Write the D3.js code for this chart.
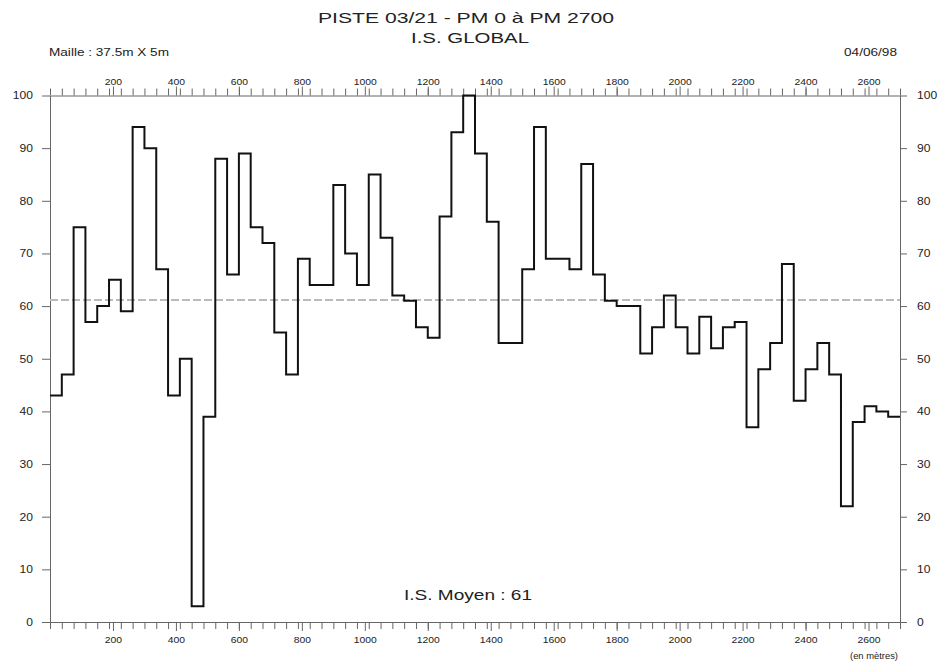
<!DOCTYPE html>
<html>
<head>
<meta charset="utf-8">
<script src="https://cdn.jsdelivr.net/npm/d3@7"></script>
<style>
  body { margin: 0; background: #fff; }
  text { font-family: "Liberation Sans", Arial, Helvetica, sans-serif; fill: #222; }
</style>
</head>
<body>
<div id="chart"></div>
<script>
const STEP = 37.5;
const LENGTH = 2700;
const isValues = [
  43, 47, 75, 57, 60, 65, 59, 94, 90, 67, 43, 50, 3, 39, 88, 66, 89, 75,
  72, 55, 47, 69, 64, 64, 83, 70, 64, 85, 73, 62, 61, 56, 54, 77, 93, 100,
  89, 76, 53, 53, 67, 94, 69, 69, 67, 87, 66, 61, 60, 60, 51, 56, 62, 56,
  51, 58, 52, 56, 57, 37, 48, 53, 68, 42, 48, 53, 47, 22, 38, 41, 40, 39
];
const xMajorTicks = [200, 400, 600, 800, 1000, 1200, 1400, 1600, 1800, 2000, 2200, 2400, 2600];
const yTicks = [0, 10, 20, 30, 40, 50, 60, 70, 80, 90, 100];

(function () {
  const width = 941;
  const height = 662;
  const margin = { top: 95.5, bottom: 40, left: 50, right: 41 };

  const svg = d3.select("#chart").append("svg")
    .attr("width", width).attr("height", height)
    .attr("viewBox", [0, 0, width, height]);

  const x = d3.scaleLinear().domain([0, LENGTH]).range([margin.left, width - margin.right]);
  const y = d3.scaleLinear().domain([0, 100]).range([height - margin.bottom, margin.top]);

  // the original print is a bit wider than its fonts, so stretch text horizontally
  const stretch = (sel, k) => sel.each(function () {
    const w = this.getComputedTextLength();
    d3.select(this).attr("textLength", w * k).attr("lengthAdjust", "spacingAndGlyphs");
  });
  const fitTo = (sel, len) => sel.attr("textLength", len).attr("lengthAdjust", "spacingAndGlyphs");

  const styleAxis = (g, size) => {
    g.attr("font-family", null).attr("font-size", size);
    g.select(".domain").attr("stroke", "#666");
    g.selectAll(".tick line").attr("stroke", "#666");
    g.selectAll(".tick text").attr("fill", "#222");
  };

  const minorTicks = d3.range(0, LENGTH + 1, STEP);
  const fmt = d3.format("d");

  // top axis
  svg.append("g").attr("transform", `translate(0,${y(100)})`)
    .call(d3.axisTop(x).tickValues(minorTicks).tickSize(7).tickSizeOuter(0).tickFormat(""))
    .call(g => styleAxis(g, 9));
  const topMajor = svg.append("g").attr("transform", `translate(0,${y(100)})`)
    .call(d3.axisTop(x).tickValues(xMajorTicks).tickSize(9).tickPadding(1.5).tickFormat(fmt))
    .call(g => styleAxis(g, 9));
  topMajor.select(".domain").remove();

  // bottom axis
  svg.append("g").attr("transform", `translate(0,${y(0)})`)
    .call(d3.axisBottom(x).tickValues(minorTicks).tickSize(7).tickSizeOuter(0).tickFormat(""))
    .call(g => styleAxis(g, 9));
  const bottomMajor = svg.append("g").attr("transform", `translate(0,${y(0)})`)
    .call(d3.axisBottom(x).tickValues(xMajorTicks).tickSize(9).tickPadding(6).tickFormat(fmt))
    .call(g => styleAxis(g, 9));
  bottomMajor.select(".domain").remove();

  // left and right axes
  const leftAxis = svg.append("g").attr("transform", `translate(${x(0)},0)`)
    .call(d3.axisLeft(y).tickValues(yTicks).tickSize(8).tickSizeOuter(0).tickPadding(9))
    .call(g => styleAxis(g, 10.5));
  const rightAxis = svg.append("g").attr("transform", `translate(${x(LENGTH)},0)`)
    .call(d3.axisRight(y).tickValues(yTicks).tickSize(7).tickSizeOuter(0).tickPadding(10))
    .call(g => styleAxis(g, 10.5));

  [topMajor, bottomMajor].forEach(g => stretch(g.selectAll(".tick text"), 1.15));
  [leftAxis, rightAxis].forEach(g => stretch(g.selectAll(".tick text"), 1.15));

  // mean line
  const meanValue = d3.mean(isValues);
  svg.append("line")
    .attr("x1", x(0)).attr("x2", x(LENGTH))
    .attr("y1", y(meanValue)).attr("y2", y(meanValue))
    .attr("stroke", "#bbb")
    .attr("stroke-width", 2)
    .attr("stroke-dasharray", "8,3");

  // step curve
  const points = isValues.map((v, i) => [i * STEP, v]);
  points.push([LENGTH, isValues[isValues.length - 1]]);

  const stepLine = d3.line()
    .x(d => x(d[0]))
    .y(d => y(d[1]))
    .curve(d3.curveStepAfter);

  svg.append("path")
    .datum(points)
    .attr("d", stepLine)
    .attr("fill", "none")
    .attr("stroke", "#111")
    .attr("stroke-width", 2)
    .attr("stroke-linejoin", "miter");

  // texts
  svg.append("text")
    .attr("x", 466).attr("y", 23)
    .attr("text-anchor", "middle")
    .attr("font-size", 15)
    .text("PISTE 03/21 - PM 0 à PM 2700")
    .call(s => fitTo(s, 296));

  svg.append("text")
    .attr("x", 470).attr("y", 43)
    .attr("text-anchor", "middle")
    .attr("font-size", 15)
    .text("I.S. GLOBAL")
    .call(s => fitTo(s, 118));

  svg.append("text")
    .attr("x", 49).attr("y", 56)
    .attr("font-size", 10.5)
    .text("Maille : 37.5m X 5m")
    .call(s => fitTo(s, 120));

  svg.append("text")
    .attr("x", 897).attr("y", 56)
    .attr("text-anchor", "end")
    .attr("font-size", 10.5)
    .text("04/06/98")
    .call(s => fitTo(s, 53));

  svg.append("text")
    .attr("x", 468).attr("y", 600)
    .attr("text-anchor", "middle")
    .attr("font-size", 15)
    .text(`I.S. Moyen : ${Math.round(meanValue)}`)
    .call(s => fitTo(s, 128));

  svg.append("text")
    .attr("x", 874).attr("y", 659)
    .attr("text-anchor", "middle")
    .attr("font-size", 9)
    .text("(en mètres)")
    .call(s => fitTo(s, 48));
})();
</script>
</body>
</html>
